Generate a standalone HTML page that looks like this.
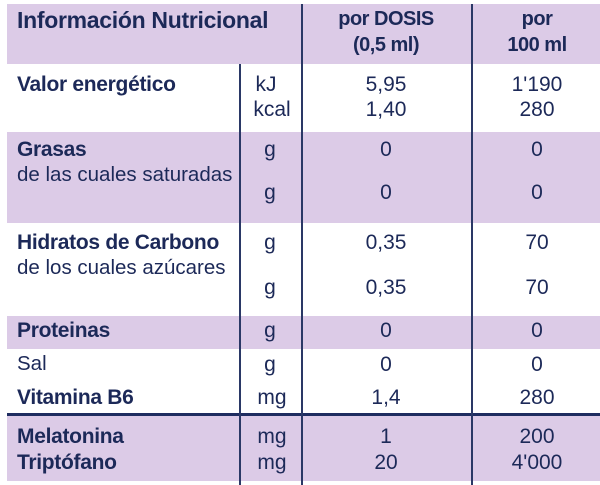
<!DOCTYPE html>
<html><head><meta charset="utf-8"><style>
body{margin:0;width:600px;height:485px;background:#fff;position:relative;overflow:hidden;font-family:"Liberation Sans",sans-serif;color:#1c2958}
.band{position:absolute;left:7px;right:0;background:#dccbe7}
.vl{position:absolute;width:2px;background:#2a3866}
.t{position:absolute;white-space:nowrap;line-height:1;font-size:21px}
.b{font-weight:bold;font-size:21px;letter-spacing:-0.3px}
.c{transform:translateX(-50%);font-size:21px}
.r{font-size:20.5px}
</style></head><body>
<div class="band" style="top:4px;height:60px"></div>
<div class="band" style="top:132px;height:91px"></div>
<div class="band" style="top:316px;height:33px"></div>
<div class="band" style="top:416px;height:65px"></div>
<div style="position:absolute;left:7px;right:0;top:413px;height:3px;background:#1f2d60"></div>
<div class="vl" style="left:239px;top:64px;height:421px"></div>
<div class="vl" style="left:301px;top:4px;height:481px"></div>
<div class="vl" style="left:471px;top:4px;height:481px"></div>

<div class="t b" style="left:17px;top:9px;font-size:23px">Información Nutricional</div>
<div class="t c" style="left:386px;top:9px;font-size:20px;font-weight:bold;letter-spacing:-0.5px">por DOSIS</div>
<div class="t c" style="left:386px;top:35px;font-size:20px;font-weight:bold;letter-spacing:-0.5px">(0,5 ml)</div>
<div class="t c" style="left:537px;top:9px;font-size:20px;font-weight:bold;letter-spacing:-0.5px">por</div>
<div class="t c" style="left:537px;top:35px;font-size:20px;font-weight:bold;letter-spacing:-0.5px">100 ml</div>

<div class="t b" style="left:17px;top:74px">Valor energético</div>
<div class="t c" style="left:266px;top:74px">kJ</div>
<div class="t c" style="left:272px;top:99px">kcal</div>
<div class="t c" style="left:386px;top:74px">5,95</div>
<div class="t c" style="left:386px;top:99px">1,40</div>
<div class="t c" style="left:537px;top:74px">1'190</div>
<div class="t c" style="left:537px;top:99px">280</div>

<div class="t b" style="left:17px;top:139px">Grasas</div>
<div class="t r" style="left:17px;top:165px">de las cuales saturadas</div>
<div class="t c" style="left:270px;top:139px">g</div>
<div class="t c" style="left:270px;top:182px">g</div>
<div class="t c" style="left:386px;top:139px">0</div>
<div class="t c" style="left:386px;top:182px">0</div>
<div class="t c" style="left:537px;top:139px">0</div>
<div class="t c" style="left:537px;top:182px">0</div>

<div class="t b" style="left:17px;top:232px">Hidratos de Carbono</div>
<div class="t r" style="left:17px;top:258px">de los cuales azúcares</div>
<div class="t c" style="left:270px;top:232px">g</div>
<div class="t c" style="left:270px;top:277px">g</div>
<div class="t c" style="left:386px;top:232px">0,35</div>
<div class="t c" style="left:386px;top:277px">0,35</div>
<div class="t c" style="left:537px;top:232px">70</div>
<div class="t c" style="left:537px;top:277px">70</div>

<div class="t b" style="left:17px;top:320px">Proteinas</div>
<div class="t c" style="left:270px;top:320px">g</div>
<div class="t c" style="left:386px;top:320px">0</div>
<div class="t c" style="left:537px;top:320px">0</div>

<div class="t r" style="left:17px;top:354px">Sal</div>
<div class="t c" style="left:270px;top:354px">g</div>
<div class="t c" style="left:386px;top:354px">0</div>
<div class="t c" style="left:537px;top:354px">0</div>

<div class="t b" style="left:17px;top:387px">Vitamina B6</div>
<div class="t c" style="left:272px;top:387px">mg</div>
<div class="t c" style="left:386px;top:387px">1,4</div>
<div class="t c" style="left:537px;top:387px">280</div>

<div class="t b" style="left:17px;top:426px">Melatonina</div>
<div class="t c" style="left:272px;top:426px">mg</div>
<div class="t c" style="left:386px;top:426px">1</div>
<div class="t c" style="left:537px;top:426px">200</div>

<div class="t b" style="left:17px;top:452px">Triptófano</div>
<div class="t c" style="left:272px;top:452px">mg</div>
<div class="t c" style="left:386px;top:452px">20</div>
<div class="t c" style="left:537px;top:452px">4'000</div>
</body></html>
